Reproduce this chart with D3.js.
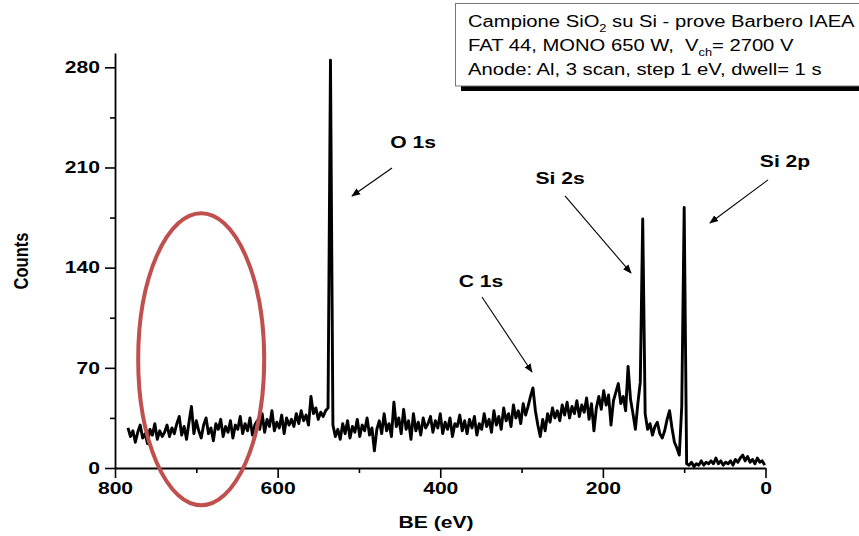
<!DOCTYPE html>
<html><head><meta charset="utf-8">
<script src="https://cdn.jsdelivr.net/npm/d3@7"></script>
<style>
body{margin:0;background:#fff}
svg{display:block}
text{font-family:Arial,"Liberation Sans",sans-serif;white-space:pre}
</style>
</head><body>
<svg id="c" width="859" height="536"></svg>
<script>
// ---- data (binding energy grid, counts) ----
const beStart = 784, beStep = 3;
const counts = [
 28,22,26,18,25,30,21,24,17,27,
 23,31,20,26,22,25,30,22,28,24,
 31,36,23,29,20,32,43,24,33,26,
 21,30,35,24,28,19,31,27,34,22,
 29,25,33,21,30,27,36,24,31,26,
 35,23,30,33,27,38,25,34,29,40,
 26,32,28,37,24,35,30,34,29,38,
 31,40,33,37,30,50,38,42,34,39,
 36,40,42,285,30,22,27,20,31,24,
 33,21,29,25,34,22,30,26,35,23,
 28,12,27,33,24,38,26,31,22,46,
 29,35,24,41,27,33,20,38,26,32,
 23,35,28,31,36,25,33,28,38,24,
 32,27,35,22,31,29,37,26,33,24,
 34,28,36,23,31,27,38,29,34,25,
 40,30,36,27,42,33,38,29,44,35,
 40,31,45,37,43,50,56,40,30,22,
 34,26,38,32,42,35,40,33,44,37,
 46,35,43,38,47,36,44,39,49,34,
 45,26,42,50,41,54,44,51,30,47,
 53,59,45,50,40,71,48,38,27,45,
 60,174,38,27,31,23,29,32,24,21,
 26,34,40,28,18,14,9,43,182,3,
 2,4,1,3,2,5,2,4,3,5,
 3,7,3,5,2,4,3,5,2,6,
 4,7,9,5,8,4,6,3,7,4,
 5,2
];
const xTicks = [800, 600, 400, 200, 0];
const xMinor = [700, 500, 300, 100];
const yTicks = [0, 70, 140, 210, 280];
const yMinor = [35, 105, 175, 245];
const peakLabels = ["O 1s", "Si 2s", "Si 2p", "C 1s"];
const labelPos  = [[433.5,223.6],[252.7,198.5],[-24,210.3],[349.9,126.5]];
const arrowFrom = [[459.3,209.6],[246.6,190.1],[-3.1,201.3],[348.7,119.5]];
const arrowTo   = [[508.5,190.1],[165.4,136.3],[68.3,171.2],[287.2,67.1]];
const ellipseCenter = [694, 76];
const ellipseRadii = [77.5, 102];
const legendLines = [
  [["Campione SiO",0],["2",1],[" su Si - prove Barbero IAEA",0]],
  [["FAT 44, MONO 650 W,  V",0],["ch",1],["= 2700 V",0]],
  [["Anode: Al, 3 scan, step 1 eV, dwell= 1 s",0]]
];

// ---- layout ----
const SX = 1.28; // horizontal stretch of the lettering in the original
const svg = d3.select("#c");
const x = d3.scaleLinear().domain([800, 0]).range([115, 765.5]);
const y = d3.scaleLinear().domain([0, 290]).range([468, 53]);

// axes
const gx = svg.append("g").attr("transform", `translate(0,${y(0)})`)
  .call(d3.axisBottom(x).tickValues(xTicks).tickSize(10).tickSizeOuter(0).tickFormat(d3.format("d")));
svg.append("g").attr("transform", `translate(0,${y(0)})`)
  .call(d3.axisBottom(x).tickValues(xMinor).tickSize(5).tickFormat(""))
  .select(".domain").remove();
const gy = svg.append("g").attr("transform", `translate(${x(800)},0)`)
  .call(d3.axisLeft(y).tickValues(yTicks).tickSize(10).tickSizeOuter(0).tickFormat(d3.format("d")));
svg.append("g").attr("transform", `translate(${x(800)},0)`)
  .call(d3.axisLeft(y).tickValues(yMinor).tickSize(5).tickFormat(""))
  .select(".domain").remove();

svg.selectAll(".domain").attr("stroke", "#000").attr("stroke-width", 1.8);
svg.selectAll(".tick line").attr("stroke", "#000").attr("stroke-width", 1.6);
svg.selectAll(".tick text").attr("fill", "#000")
  .style("font-size", "16.5px").style("font-weight", "bold")
  .style("font-family", "Arial, 'Liberation Sans', sans-serif");
gx.selectAll(".tick text").attr("y", 14).attr("transform", `scale(${SX},1)`);
gy.selectAll(".tick text").attr("x", -15 / SX).attr("transform", `scale(${SX},1)`);

// spectrum
const line = d3.line()
  .x((d, i) => x(beStart - i * beStep))
  .y(d => y(d))
  .curve(d3.curveLinear);
svg.append("path").datum(counts)
  .attr("d", line)
  .attr("fill", "none")
  .attr("stroke", "#000")
  .attr("stroke-width", 2.9)
  .attr("stroke-linejoin", "round");

// axis titles
svg.append("text")
  .attr("transform", `translate(436,528) scale(${SX},1)`)
  .attr("text-anchor", "middle")
  .style("font-size", "16.5px").style("font-weight", "bold")
  .text("BE (eV)");
svg.append("text")
  .attr("transform", `translate(28,261) scale(${SX},1) rotate(-90)`)
  .attr("text-anchor", "middle")
  .style("font-size", "16.5px").style("font-weight", "bold")
  .text("Counts");

// arrow marker
svg.append("defs").append("marker")
  .attr("id", "ah").attr("viewBox", "0 0 10 10")
  .attr("refX", 9).attr("refY", 5)
  .attr("markerWidth", 9).attr("markerHeight", 9)
  .attr("markerUnits", "userSpaceOnUse")
  .attr("orient", "auto")
  .append("path").attr("d", "M0,1 L10,5 L0,9 Z").attr("fill", "#000");

// annotations
peakLabels.forEach((lab, i) => {
  svg.append("line")
    .attr("x1", x(arrowFrom[i][0])).attr("y1", y(arrowFrom[i][1]))
    .attr("x2", x(arrowTo[i][0])).attr("y2", y(arrowTo[i][1]))
    .attr("stroke", "#000").attr("stroke-width", 1.1)
    .attr("marker-end", "url(#ah)");
  svg.append("text")
    .attr("transform", `translate(${x(labelPos[i][0])},${y(labelPos[i][1])}) scale(${SX},1)`)
    .attr("text-anchor", "middle")
    .style("font-size", "16.5px").style("font-weight", "bold")
    .text(lab);
});

// highlighted region
svg.append("ellipse")
  .attr("cx", x(ellipseCenter[0])).attr("cy", y(ellipseCenter[1]))
  .attr("rx", Math.abs(x(ellipseCenter[0] + ellipseRadii[0]) - x(ellipseCenter[0])))
  .attr("ry", Math.abs(y(ellipseCenter[1] + ellipseRadii[1]) - y(ellipseCenter[1])))
  .attr("fill", "none").attr("stroke", "#c0504d").attr("stroke-width", 4);

// info box
const box = svg.append("g");
box.append("rect").attr("x", 461).attr("y", 86).attr("width", 420).attr("height", 5).attr("fill", "#000");
box.append("rect").attr("x", 455.5).attr("y", 3.5).attr("width", 420).attr("height", 82.5)
  .attr("fill", "#fff").attr("stroke", "#777").attr("stroke-width", 1);
const tg = box.append("g").attr("transform", `translate(468,0) scale(${SX},1)`);
legendLines.forEach((segs, li) => {
  const t = tg.append("text").attr("x", 0).attr("y", 27 + li * 24)
    .style("font-size", "15.8px").attr("fill", "#000");
  segs.forEach(([s, sub], k) => {
    const ts = t.append("tspan").text(s);
    if (sub) ts.attr("dy", 5).style("font-size", "10px");
    else if (k > 0 && segs[k - 1][1]) ts.attr("dy", -5);
  });
});
</script>
</body></html>
